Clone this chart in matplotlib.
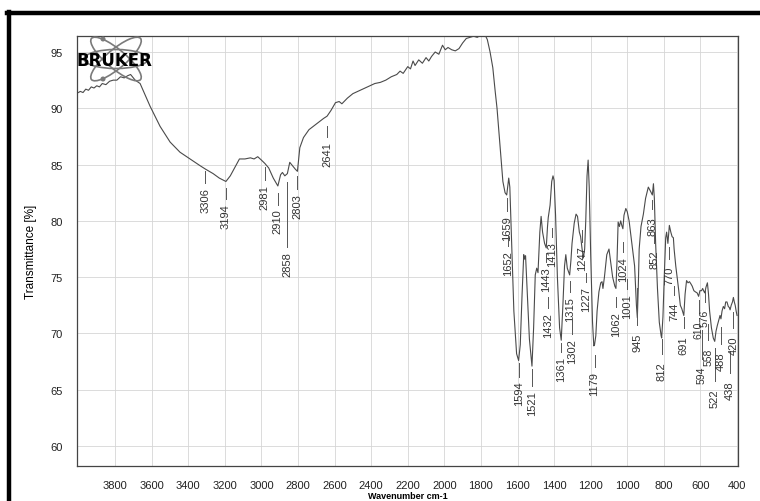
import numpy as np
import matplotlib.pyplot as plt
from matplotlib.patches import Ellipse, Circle
from matplotlib.lines import Line2D

# IR spectrum (wavenumber in cm-1, transmittance in %)
wavenumber = [
    4000, 3990, 3975, 3960, 3945, 3930, 3915, 3900, 3885, 3870, 3850, 3830, 3810, 3790,
    3770, 3750, 3730, 3715, 3705, 3690, 3663, 3609, 3554, 3499, 3445, 3390, 3335, 3306,
    3264, 3230, 3194, 3170, 3150, 3120, 3090, 3060, 3040, 3020, 3000, 2981, 2960, 2935,
    2910, 2895, 2885, 2872, 2858, 2845, 2835, 2815, 2803, 2790, 2770, 2740, 2700, 2660,
    2641, 2620, 2595, 2575, 2560, 2530, 2500, 2460, 2420, 2380, 2350, 2320, 2290, 2260,
    2242, 2225, 2200, 2185, 2171, 2160, 2140, 2120, 2100, 2085, 2070, 2050, 2030, 2010,
    1995, 1980, 1960, 1940, 1920, 1900, 1880, 1860, 1840, 1820, 1800, 1780, 1765, 1750,
    1735, 1722, 1712, 1702, 1692, 1680, 1668, 1659, 1654, 1648, 1642, 1632, 1620, 1605,
    1594, 1585, 1575, 1566, 1561, 1556, 1548, 1535, 1521, 1512, 1503, 1495, 1488, 1478,
    1471, 1463, 1452, 1443, 1436, 1432, 1422, 1413, 1406, 1400, 1392, 1382, 1370, 1361,
    1352, 1343, 1336, 1328, 1315, 1308, 1302, 1290, 1280, 1272, 1262, 1255, 1247, 1240,
    1233, 1227, 1220, 1214, 1208, 1200, 1190, 1183, 1179, 1172, 1165, 1155, 1145, 1138,
    1133, 1125, 1112, 1100, 1092, 1080, 1068, 1062, 1056, 1050, 1043, 1036, 1030, 1024,
    1018, 1008, 1000, 990, 975, 960, 950, 945, 940, 935, 925, 912, 900, 885,
    872, 863, 857, 852, 845, 835, 825, 815, 812, 805, 798, 790, 785, 778,
    770, 762, 755, 748, 744, 735, 720, 710, 702, 691, 684, 676, 668, 660,
    652, 645, 636, 628, 618, 610, 603, 594, 588, 580, 576, 570, 562, 556,
    550, 540, 530, 522, 515, 508, 500, 493, 488, 482, 475, 468, 462, 455,
    448, 442, 438, 432, 425, 420, 415, 410, 405, 400,
]
transmittance = [
    91.4, 91.5, 91.4, 91.7, 91.6, 91.9, 91.8, 92.0, 91.9, 92.2, 92.1, 92.4, 92.5, 92.5,
    92.8, 92.7, 92.9, 93.0, 92.8, 92.5, 92.2, 90.2, 88.4, 87.0, 86.1, 85.5, 84.9, 84.6,
    84.2, 83.8, 83.5, 84.0, 84.6, 85.5, 85.5, 85.6, 85.5, 85.7, 85.4, 85.1, 84.7, 83.8,
    83.1, 84.1, 84.3, 84.0, 84.2, 85.2, 85.0, 84.6, 84.4, 86.5, 87.4, 88.1, 88.6, 89.1,
    89.3, 89.8, 90.5, 90.6, 90.4, 90.9, 91.3, 91.6, 91.9, 92.2, 92.3, 92.5, 92.8, 93.0,
    93.3, 93.1, 93.7, 93.5, 94.2, 93.8, 94.3, 94.0, 94.5, 94.2, 94.6, 95.0, 94.8, 95.6,
    95.2, 95.4, 95.2, 95.1, 95.3, 95.8, 96.2, 96.3, 96.4, 96.3, 96.5, 96.6, 96.1, 95.0,
    93.6, 91.5, 90.0, 88.0, 86.0, 83.5, 82.5, 82.3, 83.0, 83.8, 83.0, 78.0, 72.0, 68.2,
    67.6, 69.0, 73.5, 77.0, 76.6, 76.9, 74.0, 69.5, 67.1, 70.5, 75.2, 75.8, 75.4, 79.0,
    80.4, 79.0, 78.0, 77.6, 79.5, 80.3, 81.4, 83.5, 84.0, 83.6, 80.5, 75.0, 70.5, 69.4,
    72.5, 76.0, 77.0, 75.8, 75.2, 76.5, 78.0, 79.8, 80.6, 80.4, 79.0, 78.6, 77.5, 76.7,
    77.5, 80.0, 84.0, 85.4, 83.0, 77.0, 71.0, 68.9, 69.0, 69.8, 72.0, 73.7, 74.5, 74.6,
    74.0, 75.0, 77.0, 77.5, 76.5, 75.0, 74.2, 74.0, 76.5, 79.9, 79.5, 80.0, 79.6, 79.3,
    80.5, 81.1, 80.8, 80.0, 78.0, 76.0, 72.5, 71.4, 74.0, 77.5, 79.5, 80.6, 82.0, 83.0,
    82.6, 82.3, 83.3, 82.0, 78.0, 74.0, 71.0, 69.8, 69.6, 71.5, 75.0, 78.5, 79.0, 78.0,
    79.6, 79.0, 78.6, 78.5, 77.5, 76.0, 74.0, 72.5, 72.2, 71.6, 73.5, 74.7, 74.5, 74.6,
    74.4, 74.2, 73.8, 73.7, 73.6, 73.3, 73.8, 73.8, 74.0, 73.7, 73.6, 74.1, 74.5, 73.5,
    72.0, 70.5, 69.6, 69.3, 70.2, 70.7, 71.2, 71.6, 71.3, 72.0, 72.4, 72.2, 72.8, 72.8,
    72.4, 72.3, 72.1, 72.5, 72.8, 73.2, 72.8, 72.5, 72.0, 71.6,
]

# peak picking labels
peak_labels = [3306, 3194, 2981, 2910, 2858, 2803, 2641, 1659, 1652, 1594, 1521, 1443,
               1432, 1413, 1361, 1315, 1302, 1247, 1227, 1179, 1062, 1024, 1001, 945,
               863, 852, 812, 770, 744, 691, 610, 594, 576, 558, 522, 488, 438, 420]
# where each label text sits (centre, in % units) and its leader line length
label_text_y = [81.9, 80.5, 82.2, 80.0, 76.2, 81.4, 86.0, 79.4, 76.3, 64.7, 63.9, 74.9,
                70.8, 77.1, 66.9, 72.2, 68.5, 76.7, 73.1, 65.6, 70.9, 75.8, 72.5, 69.3,
                79.6, 76.6, 66.7, 75.2, 72.0, 69.0, 70.4, 66.4, 71.4, 68.0, 64.3, 67.6,
                65.0, 69.0]
leader_len = [1.1, 1.0, 1.1, 1.0, 5.8, 1.1, 1.0, 1.2, 1.0, 1.2, 1.5, 0.8,
              1.0, 0.8, 0.8, 1.0, 1.3, 1.0, 0.8, 1.0, 0.9, 0.9, 0.9, 3.3,
              0.8, 1.0, 1.4, 1.0, 0.8, 1.0, 1.2, 2.5, 1.2, 1.5, 3.0, 1.5,
              2.0, 1.5]
# crowded labels near 600 cm-1 are set a bit smaller
small_labels = {610, 594, 576, 558}

x_ticks = list(range(3800, 399, -200))
y_ticks = [60, 65, 70, 75, 80, 85, 90, 95]

fig = plt.figure(figsize=(7.6, 5.02), dpi=100)
fig.patch.set_facecolor("white")
ax = fig.add_axes([0.1013, 0.0697, 0.8697, 0.8566])

ax.plot(wavenumber, transmittance, color="#4a4a4a", lw=0.8, zorder=3)
ax.set_xlim(4008, 395)
ax.set_ylim(58.23, 96.42)

ax.set_xticks(x_ticks)
ax.set_yticks(y_ticks)
ax.grid(True, color="#d6d6d6", lw=0.6)
ax.tick_params(length=0, pad=10, labelsize=8, labelcolor="#222222")
for lbl in ax.get_xticklabels() + ax.get_yticklabels():
    lbl.set_fontfamily("Liberation Sans")
for sp in ax.spines.values():
    sp.set_color("#444444")
    sp.set_linewidth(0.9)

ax.set_xlabel("Wavenumber cm-1", fontsize=6.5, fontweight="bold",
              family="Liberation Sans", labelpad=1)
ax.set_ylabel("Transmittance [%]", fontsize=8.5, family="Liberation Sans", labelpad=10)

# peak labels: rotated number with a short leader line above it
half_txt = 1.15
for wn, ty, ll in zip(peak_labels, label_text_y, leader_len):
    fs = 7.5 if wn in small_labels else 8
    ax.text(wn, ty, str(wn), rotation=90, ha="center", va="center", fontsize=fs,
            family="Liberation Sans", color="#333333", zorder=4)
    top = ty + half_txt * fs / 8 + 0.3
    ax.plot([wn, wn], [top, top + ll], color="#555555", lw=0.7, zorder=4)

# Bruker logo in the upper left corner
lax = fig.add_axes([74 / 760, 1 - 86 / 502, 86 / 760, 51 / 502])
lax.set_xlim(0, 86)
lax.set_ylim(0, 51)
lax.axis("off")
lax.patch.set_alpha(0)
for ang in (40, -40, 0):
    lax.add_patch(Ellipse((42, 26), 64, 19, angle=ang, fill=False,
                          ec="#7a7a7a", lw=1.2))
lax.add_patch(Circle((29, 46), 1.8, color="#7a7a7a"))
lax.add_patch(Circle((29, 6), 1.8, color="#7a7a7a"))
lax.text(2, 25, "BRUKER", fontsize=12, fontweight="bold", family="DejaVu Sans",
         ha="left", va="center", color="black")

# dark scan border on top and left
fig.add_artist(Line2D([7 / 760, 1], [1 - 14 / 502, 1 - 14 / 502], color="black",
                      lw=3.2, transform=fig.transFigure))
fig.add_artist(Line2D([8.5 / 760, 8.5 / 760], [0, 1 - 12.5 / 502], color="black",
                      lw=3.2, transform=fig.transFigure))

fig.savefig("out.png", dpi=100)
